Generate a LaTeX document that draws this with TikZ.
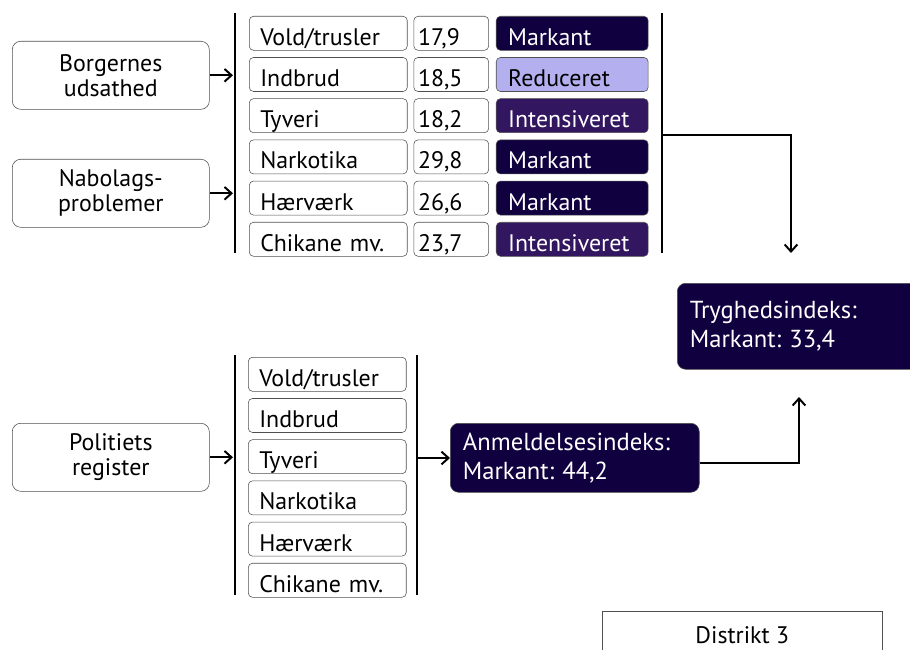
\documentclass[tikz,border=0pt]{standalone}
\usepackage{fontspec}
\setmainfont{PT Sans}
\usetikzlibrary{shapes, arrows.meta, positioning}
\definecolor{markant}{RGB}{16,0,64}
\definecolor{intens}{RGB}{50,22,96}
\definecolor{reduc}{RGB}{180,176,240}
\definecolor{edge}{RGB}{80,80,80}
\frenchspacing

\begin{document}
\begin{tikzpicture}[x=0.025cm, y=-0.025cm, auto]
		% Define elements
		\tikzstyle{line} = [draw, -{Straight Barb[length=5pt, width=9pt, line width=1.4pt]}, line width=1.4pt]
		\tikzstyle{bar} = [draw, line width=1.4pt]
		\tikzstyle{source} = [rectangle, draw=edge, rounded corners=6pt, text width=4.525cm, inner xsep=0.2cm,
		    align=center, minimum height=1.7cm, font=\fontsize{17}{17.8}\selectfont]
		\tikzstyle{cell} = [rectangle, draw=edge, rounded corners=3pt, align=left, inner ysep=1pt,
		    text height=19.6pt, text depth=2.6pt, font=\fontsize{17}{18}\selectfont]
		\tikzstyle{catbox} = [cell, text width=3.4cm, inner xsep=7.8pt]
		\tikzstyle{numbox} = [cell, text width=1.66cm, inner xsep=3pt]
		\tikzstyle{markantbox} = [cell, text width=3.2cm, inner xsep=8.5pt, fill=markant, text=white]
		\tikzstyle{intensbox} = [markantbox, fill=intens]
		\tikzstyle{reducbox} = [markantbox, fill=reduc, text=black]
		\tikzstyle{index} = [rectangle, draw=edge, fill=markant, text=white, rounded corners=6pt,
		    align=left, inner xsep=9pt, font=\fontsize{17.5}{20.6}\selectfont]
		\tikzstyle{distbox} = [rectangle, draw=edge, minimum width=7cm, inner ysep=0pt,
		    text height=22.8pt, text depth=12pt, font=\fontsize{17}{18}\selectfont]
		\useasboundingbox (0,0) rectangle (910,650);
		\clip (0,0) rectangle (910,650);
		%% Survey
		\node [name = borg, source, anchor=north west] at (12,41) {Borgernes\\udsathed};
		\node [name = nabo, source, anchor=north west] at (12,159) {Nabolags-\\problemer};
		\node [name = voldT, catbox, anchor=north west] at (249,16) {Vold/trusler};
		\node [name = indbT, catbox, below=0.165cm of voldT] {Indbrud};
		\node [name = tyvT, catbox, below=0.165cm of indbT] {Tyveri};
		\node [name = narkT, catbox, below=0.165cm of tyvT] {Narkotika};
		\node [name = haerT, catbox, below=0.165cm of narkT] {Hærværk};
		\node [name = chikT, catbox, below=0.165cm of haerT] {Chikane mv.};
		\node [name = voldN, numbox, right=0.15cm of voldT] {17,9};
		\node [name = indbN, numbox, right=0.15cm of indbT] {18,5};
		\node [name = tyvN, numbox, right=0.15cm of tyvT] {18,2};
		\node [name = narkN, numbox, right=0.15cm of narkT] {29,8};
		\node [name = haerN, numbox, right=0.15cm of haerT] {26,6};
		\node [name = chikN, numbox, right=0.15cm of chikT] {23,7};
		\node [name = voldR, markantbox, right=0.175cm of voldN] {Markant};
		\node [name = indbR, reducbox, right=0.175cm of indbN] {Reduceret};
		\node [name = tyvR, intensbox, right=0.175cm of tyvN] {Intensiveret};
		\node [name = narkR, markantbox, right=0.175cm of narkN] {Markant};
		\node [name = haerR, markantbox, right=0.175cm of haerN] {Markant};
		\node [name = chikR, intensbox, right=0.175cm of chikN] {Intensiveret};
		\draw [bar] (235,13) -- (235,253);
		\draw [bar] (662,13) -- (662,253);
		\node [name = tryg, index, anchor=north west, text width=5.6cm, minimum height=2.15cm] at (677,283) {Tryghedsindeks:\\Markant: 33,4};

		%% Police register
		\node [name = poli, source, anchor=north west] at (12,423) {Politiets\\register};
		\node [name = voldA, catbox, anchor=north west] at (248,357) {Vold/trusler};
		\node [name = indbA, catbox, below=0.165cm of voldA] {Indbrud};
		\node [name = tyvA, catbox, below=0.165cm of indbA] {Tyveri};
		\node [name = narkA, catbox, below=0.165cm of tyvA] {Narkotika};
		\node [name = haerA, catbox, below=0.165cm of narkA] {Hærværk};
		\node [name = chikA, catbox, below=0.165cm of haerA] {Chikane mv.};
		\draw [bar] (235,355) -- (235,595);
		\draw [bar] (417,355) -- (417,595);
		\node [name = anm, index, anchor=north west, text width=5.59cm, minimum height=1.725cm] at (450,423) {Anmeldelsesindeks:\\Markant: 44,2};

		\node [name = dist, distbox, anchor=north west] at (602,611) {Distrikt 3};
	% arrows
		\coordinate (barT) at (233,0);
		\coordinate (splitT) at (662,135);
		\coordinate (trygIn) at (791,253);
		\coordinate (splitA) at (417,458);
		\coordinate (anmOut) at (799,397);
		\path [line] (borg) -- (borg -| barT);
		\path [line] (nabo) -- (nabo -| barT);
		\path [line] (poli) -- (poli -| barT);
		\path [line] (splitT) -| (trygIn);
		\path [line] (splitA) -- (splitA -| anm.west);
		\path [line] ([yshift=-4pt]anm.east) -| (anmOut);
	\end{tikzpicture}
\end{document}
